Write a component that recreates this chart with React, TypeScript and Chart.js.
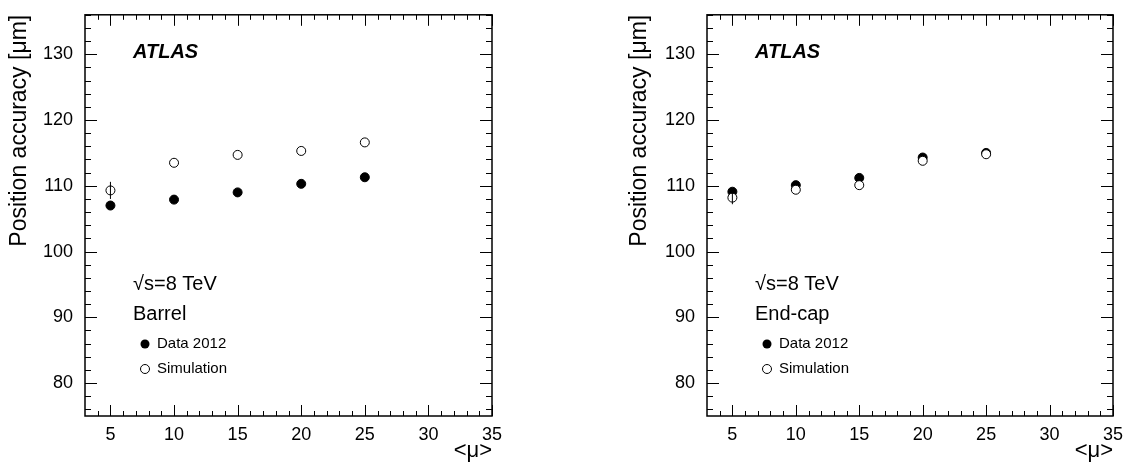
import { useEffect, useRef } from "react"
import { Chart, registerables } from "chart.js"

Chart.register(...registerables)

const mu = [5, 10, 15, 20, 25]
const barrelData = [107.0, 107.9, 109.0, 110.3, 111.3]
const barrelSim = [109.3, 113.5, 114.7, 115.3, 116.6]
const barrelSimErr = [1.3, 0, 0, 0, 0]
const endcapData = [109.1, 110.1, 111.2, 114.3, 115.0]
const endcapSim = [108.2, 109.4, 110.1, 113.8, 114.8]
const endcapSimErr = [1.0, 0, 0, 0, 0]
const xTicks = [5, 10, 15, 20, 25, 30, 35]
const yTicks = [80, 90, 100, 110, 120, 130]

const FONT = "'Liberation Sans', Arial, sans-serif"

type PanelProps = {
  region: string
  data: number[]
  sim: number[]
  simErr: number[]
  padLeft: number
  yWidth: number
  padRight: number
}

function Panel({ region, data, sim, simErr, padLeft, yWidth, padRight }: PanelProps) {
  const ref = useRef<HTMLCanvasElement>(null)

  useEffect(() => {
    if (!ref.current) return
    const ctx = ref.current.getContext("2d")
    if (!ctx) return

    const decor = {
      id: "decor",
      afterDatasetsDraw(chart: Chart) {
        const c = chart.ctx
        const { left, right, top, bottom } = chart.chartArea
        const xs = chart.scales.x
        const ys = chart.scales.y
        c.save()
        c.strokeStyle = "#000"
        c.lineWidth = 1
        // error bars
        c.beginPath()
        mu.forEach((m, i) => {
          if (!simErr[i]) return
          const px = xs.getPixelForValue(m)
          c.moveTo(px, ys.getPixelForValue(sim[i] - simErr[i]))
          c.lineTo(px, ys.getPixelForValue(sim[i] + simErr[i]))
        })
        c.stroke()
        // inward ticks
        c.beginPath()
        for (let v = 4; v <= 35; v++) {
          const px = Math.round(xs.getPixelForValue(v)) + 0.5
          const len = v % 5 === 0 ? 11 : 5
          c.moveTo(px, bottom); c.lineTo(px, bottom - len)
          c.moveTo(px, top); c.lineTo(px, top + len)
        }
        for (let v = 76; v <= 136; v += 2) {
          const py = Math.round(ys.getPixelForValue(v)) + 0.5
          const len = v % 10 === 0 ? 12 : 6
          c.moveTo(left, py); c.lineTo(left + len, py)
          c.moveTo(right, py); c.lineTo(right - len, py)
        }
        c.stroke()
        c.lineWidth = 1.5
        c.strokeRect(left, top, right - left, bottom - top)
        // texts
        const tx = left + 48
        c.fillStyle = "#000"
        c.textBaseline = "middle"
        c.font = `italic bold 20px ${FONT}`
        c.fillText("ATLAS", tx, 52)
        c.font = `20px ${FONT}`
        c.fillText("√s=8 TeV", tx, 284)
        c.fillText(region, tx, 314)
        c.font = `15px ${FONT}`
        c.fillText("Data 2012", tx + 24, 344)
        c.fillText("Simulation", tx + 24, 369)
        c.lineWidth = 1
        c.beginPath(); c.arc(tx + 12, 344, 4.5, 0, Math.PI * 2); c.fill()
        c.beginPath(); c.arc(tx + 12, 369, 4.5, 0, Math.PI * 2); c.stroke()
        c.restore()
      },
    }

    const chart = new Chart(ctx, {
      type: "scatter",
      data: {
        datasets: [
          {
            label: "Simulation",
            data: mu.map((m, i) => ({ x: m, y: sim[i] })),
            pointRadius: 4.5,
            pointBackgroundColor: "#fff",
            pointBorderColor: "#000",
            pointBorderWidth: 1,
          },
          {
            label: "Data 2012",
            data: mu.map((m, i) => ({ x: m, y: data[i] })),
            pointRadius: 4.5,
            pointBackgroundColor: "#000",
            pointBorderColor: "#000",
          },
        ],
      },
      options: {
        animation: false,
        responsive: false,
        layout: { padding: { left: padLeft, top: 5, right: padRight, bottom: 0 } },
        plugins: { legend: { display: false }, tooltip: { enabled: false } },
        scales: {
          x: {
            min: 3,
            max: 35,
            afterFit: (s: any) => { s.height = 52 },
            afterBuildTicks: (s: any) => { s.ticks = xTicks.map((v) => ({ value: v })) },
            grid: { display: false },
            border: { display: false },
            ticks: { color: "#000", font: { family: FONT, size: 18 }, padding: 0 },
            title: { display: true, text: "<μ>", align: "end", color: "#000", font: { family: FONT, size: 22 }, padding: { top: 2 } },
          },
          y: {
            min: 75,
            max: 136,
            afterFit: (s: any) => { s.width = yWidth },
            afterBuildTicks: (s: any) => { s.ticks = yTicks.map((v) => ({ value: v })) },
            grid: { display: false },
            border: { display: false },
            ticks: { color: "#000", font: { family: FONT, size: 18 }, padding: 4 },
            title: { display: true, text: "Position accuracy [μm]", align: "end", color: "#000", font: { family: FONT, size: 23 }, padding: { top: 6, bottom: 4 } },
          },
        },
      },
      plugins: [decor],
    })

    return () => chart.destroy()
  }, [])

  return <canvas ref={ref} width={565} height={468} style={{ display: "block" }} />
}

export default function App() {
  useEffect(() => {
    document.body.style.margin = "0"
  }, [])
  return (
    <div style={{ display: "flex", width: 1130, height: 468, background: "#fff" }}>
      <Panel region="Barrel" data={barrelData} sim={barrelSim} simErr={barrelSimErr} padLeft={0} yWidth={85} padRight={73} />
      <Panel region="End-cap" data={endcapData} sim={endcapSim} simErr={endcapSimErr} padLeft={55} yWidth={87} padRight={17} />
    </div>
  )
}
